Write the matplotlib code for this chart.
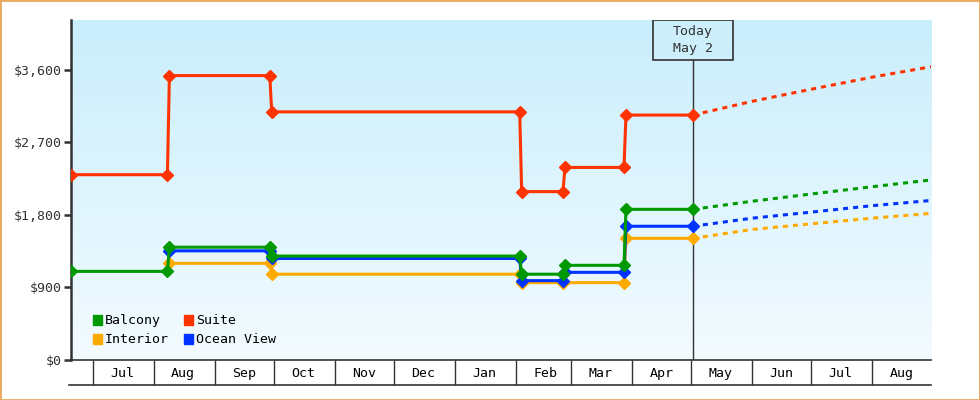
import numpy as np
import pandas as pd
import matplotlib
matplotlib.use("Agg")
import matplotlib.pyplot as plt
import matplotlib.dates as mdates
import matplotlib.patches as mpatches
from matplotlib.lines import Line2D
from matplotlib.transforms import blended_transform_factory
from matplotlib.ticker import FuncFormatter, MultipleLocator

plt.rcParams['font.family'] = ['DejaVu Sans Mono']

# price history (step changes, each change is two points a day apart)
suite_dates = ["2024-06-20", "2024-08-08", "2024-08-09", "2024-09-29", "2024-09-30",
               "2025-02-03", "2025-02-04", "2025-02-25", "2025-02-26", "2025-03-28",
               "2025-03-29", "2025-05-02"]
suite_prices = [2300, 2300, 3530, 3530, 3080, 3080, 2090, 2090, 2390, 2390, 3040, 3040]

balcony_dates = suite_dates
balcony_prices = [1100, 1100, 1400, 1400, 1290, 1290, 1065, 1065, 1175, 1175, 1870, 1870]

ocean_dates = ["2024-08-09", "2024-09-29", "2024-09-30", "2025-02-03", "2025-02-04",
               "2025-02-25", "2025-02-26", "2025-03-28", "2025-03-29", "2025-05-02"]
ocean_prices = [1355, 1355, 1260, 1260, 985, 985, 1088, 1088, 1660, 1660]

interior_dates = ["2024-08-09", "2024-09-29", "2024-09-30", "2025-02-03", "2025-02-04",
                  "2025-02-25", "2025-03-28", "2025-03-29", "2025-05-02"]
interior_prices = [1200, 1200, 1065, 1065, 960, 960, 960, 1510, 1510]

# projected prices
proj_dates = ["2025-05-02", "2025-06-01", "2025-07-01", "2025-08-01", "2025-08-31"]
suite_proj = [3040, 3210, 3360, 3510, 3640]
balcony_proj = [1870, 1970, 2060, 2150, 2235]
ocean_proj = [1660, 1760, 1835, 1915, 1980]
interior_proj = [1510, 1620, 1690, 1760, 1820]

today = pd.Timestamp("2025-05-02")
x_start, x_end = pd.Timestamp("2024-06-20"), pd.Timestamp("2025-08-31")

series = [
    ("Interior", "#ffaa00", interior_dates, interior_prices, interior_proj),
    ("Ocean View", "#0033ff", ocean_dates, ocean_prices, ocean_proj),
    ("Balcony", "#009900", balcony_dates, balcony_prices, balcony_proj),
    ("Suite", "#ff3300", suite_dates, suite_prices, suite_proj),
]

dark = "#333333"
fig = plt.figure(figsize=(9.8, 4.0), dpi=100)
ax = fig.add_axes([71 / 980, 40 / 400, 860 / 980, 340 / 400])

# background gradient
grad = np.linspace(0, 1, 256).reshape(-1, 1)
cmap = matplotlib.colors.LinearSegmentedColormap.from_list("bg", ["#f3fbff", "#c9eefc"])
ax.imshow(grad, extent=[0, 1, 0, 1], transform=ax.transAxes, origin="lower",
          aspect="auto", cmap=cmap, zorder=0)

proj_x = pd.to_datetime(proj_dates)
for name, color, dates, prices, proj in series:
    ax.plot(pd.to_datetime(dates), prices, color=color, lw=2.2, marker="D",
            markersize=6, zorder=3)
    ax.plot(proj_x, proj, color=color, lw=2.2, linestyle=(0, (1.65, 1.65)), zorder=3)

# today marker
ax.axvline(today, ymax=(340 - 40) / 340, color=dark, lw=1, zorder=2)
blend = blended_transform_factory(ax.transData, ax.transAxes)
box_w = pd.Timedelta(days=41)
ax.add_patch(mpatches.Rectangle((today - box_w / 2, 1 - 40 / 340), box_w, 40 / 340,
                                transform=blend, facecolor="#cdeffc", edgecolor=dark,
                                lw=1.2, zorder=4))
ax.text(today, 1 - 20 / 340, "Today\nMay 2", transform=blend, ha="center", va="center",
        fontsize=9.5, color=dark, linespacing=1.35, zorder=5)

ax.set_xlim(x_start, x_end)
ax.set_ylim(0, 4220)

# y axis
ax.yaxis.set_major_locator(MultipleLocator(900))
ax.yaxis.set_major_formatter(FuncFormatter(lambda v, p: f"${v:,.0f}"))
ax.tick_params(axis="y", length=5, width=1.8, color=dark, labelsize=9.5,
               labelcolor=dark, pad=2)

# x axis: month boundaries as long ticks, labels mid-month
ax.xaxis.set_major_locator(mdates.MonthLocator())
ax.xaxis.set_major_formatter(FuncFormatter(lambda v, p: ""))
ax.xaxis.set_minor_locator(mdates.DayLocator(bymonthday=16))
ax.xaxis.set_minor_formatter(mdates.DateFormatter("%b"))
ax.tick_params(axis="x", which="major", length=18, width=1, color=dark)
ax.tick_params(axis="x", which="minor", length=0, labelsize=9.5, labelcolor="black", pad=5)
ax.add_line(Line2D([-0.002, 1], [-25 / 340, -25 / 340], transform=ax.transAxes,
                   color=dark, lw=1.2, clip_on=False))

for side in ("top", "right"):
    ax.spines[side].set_visible(False)
ax.spines["left"].set_color(dark)
ax.spines["left"].set_linewidth(1.8)
ax.spines["bottom"].set_color(dark)
ax.spines["bottom"].set_linewidth(1.2)

# legend
handles = [mpatches.Patch(color=c, label=n) for n, c, *_ in
           [series[2], series[0], series[3], series[1]]]
ax.legend(handles=handles, ncol=2, loc="lower left", bbox_to_anchor=(0.025, 0.04),
          frameon=False, fontsize=9.5, handlelength=0.75, handleheight=0.75,
          handletextpad=0.2, columnspacing=1.1, labelspacing=0.45, borderpad=0,
          borderaxespad=0)

# outer border
fig.add_artist(mpatches.Rectangle((0, 0), 1, 1, transform=fig.transFigure, fill=False,
                                  edgecolor="#e8a860", lw=2))

fig.savefig("out.png", dpi=100)
